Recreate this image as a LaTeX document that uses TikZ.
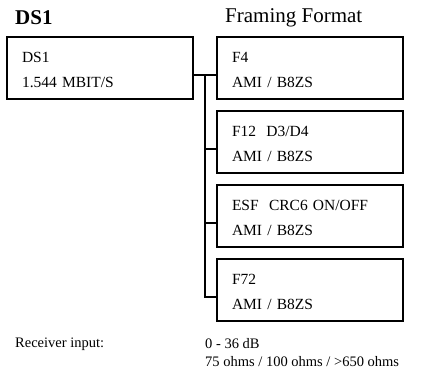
\documentclass[tikz,border=0pt]{standalone}
\usepackage{fontspec}
\setmainfont{Liberation Serif}
\begin{document}
\begin{tikzpicture}[
                x=1pt, y=-1pt,
                dsOneBox/.style={draw=black,line width=1.6pt,rectangle,
                                 minimum width=186pt,minimum height=62pt,
                                 text width=156pt,inner xsep=15pt,inner ysep=0pt,
                                 align=left,font=\fontsize{15.5}{25}\selectfont,
                                 execute at begin node={\rule{0pt}{15pt}}},
                dsOneLink/.style={draw=black,line width=1.5pt},
                dsOneTitle/.style={anchor=west,inner sep=0pt,font=\fontsize{21}{24}\selectfont},
                dsOneNote/.style={anchor=west,inner sep=0pt,font=\fontsize{14.5}{17}\selectfont}]
                \useasboundingbox (0,0) rectangle (426,387);
                % headings
                \node[dsOneTitle,font=\fontsize{21}{24}\selectfont\bfseries] (dsTitle) at (15,18) {DS1};
                \node[dsOneTitle] (fmtTitle) at (225,18) {Framing Format};
                % line box and framing boxes
                \node[dsOneBox] (dsBox) at (100,68) {DS1\\1.544 MBIT/S};
                \node[dsOneBox] (fFour) at (310,68) {F4\\AMI / B8ZS};
                \node[dsOneBox] (fTwelve) at (310,142) {F12\ \ D3/D4\\AMI / B8ZS};
                \node[dsOneBox] (esf) at (310,216) {ESF\ \ CRC6 ON/OFF\\AMI / B8ZS};
                \node[dsOneBox] (fSeventyTwo) at (310,290) {F72\\AMI / B8ZS};
                % tree connectors
                \coordinate (trunkTop) at (205,75);
                \draw[dsOneLink] ([yshift=-7pt]dsBox.east) -- ([yshift=-7pt]fFour.west);
                \foreach \n in {fTwelve,esf,fSeventyTwo}
                    \draw[dsOneLink] ([yshift=-7pt]\n.west) -| (trunkTop);
                % receiver data
                \node[dsOneNote] (rxLabel) at (15,344) {Receiver input:};
                \node[dsOneNote] (rxRange) at (205,344) {0 - 36 dB};
                \node[dsOneNote] (rxOhms) at (205,362) {75 ohms / 100 ohms / >650 ohms};
            \end{tikzpicture}
\end{document}
